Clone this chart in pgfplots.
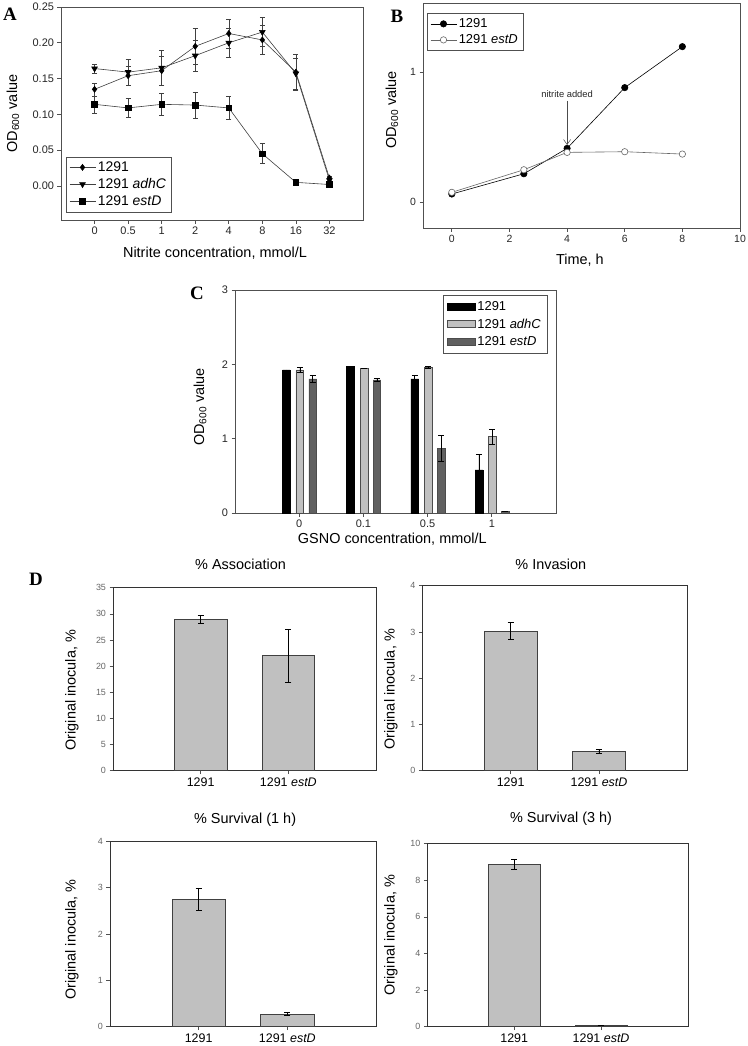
\documentclass[border=0pt]{standalone}
\usepackage{pgfplots}
\pgfplotsset{compat=1.18}
\usepackage{fontspec}
\setmainfont{Liberation Sans}
\newfontfamily\serifb{Liberation Serif}
\usetikzlibrary{arrows.meta}
\definecolor{lgray}{HTML}{C0C0C0}
\definecolor{dgray}{HTML}{606060}
\definecolor{frame}{HTML}{505050}
\newcommand{\fs}[2]{\fontsize{#1}{#2}\selectfont}
\tikzset{lab/.style={font=\fs{14.5}{17}}}
\pgfplotsset{
  base/.style={
    scale only axis, anchor=south west, clip=false,
    axis line style={frame, line width=0.7bp},
    tick style={frame, line width=0.7bp},
    tick align=outside, major tick length=3.5bp,
    xtick pos=left, ytick pos=left,
    /pgf/number format/assume math mode=true,
    tick label style={black!85},
    legend cell align=left,
  },
  ebar/.style={error bars/.cd, y dir=both, y explicit,
    error bar style={black!75, line width=0.5bp},
    error mark options={rotate=90, mark size=2.5bp, black!75, line width=0.5bp}},
  bebar/.style={error bars/.cd, y dir=both, y explicit,
    error bar style={black, line width=0.6bp},
    error mark options={rotate=90, mark size=3bp, black, line width=0.6bp}},
  dpanel/.style={base, ymin=0, xmin=0, xmax=3, xtick={1,2},
    xticklabels={1291, 1291 \textit{estD}},
    xticklabel style={font=\fs{12.5}{14}, black},
    yticklabel style={font=\fs{9}{10}, black!60},
    ylabel={Original inocula, \%}, ylabel style={lab},
    title style={font=\fs{14.5}{17}, anchor=center},
    axis line style={black!80}},
  dbar/.style={ybar, bar width=0.6, fill=lgray, draw=black!75, line width=0.8bp, bebar},
}
\begin{document}
\begin{tikzpicture}
\path[use as bounding box] (0,0) rectangle (748bp,-1046bp);

% ---------- Panel A ----------
\begin{axis}[base, at={(61bp,-220bp)}, width=302bp, height=213bp,
  xmin=-1, xmax=8, ymin=-0.0476, ymax=0.25,
  xtick={0,1,2,3,4,5,6,7}, xticklabels={0,0.5,1,2,4,8,16,32},
  ytick={0,0.05,0.1,0.15,0.2,0.25},
  yticklabel style={/pgf/number format/.cd, fixed, fixed zerofill, precision=2},
  tick label style={font=\fs{11}{13}},
  xlabel={Nitrite concentration, mmol/L},
  xlabel style={lab, at={(axis description cs:0.51,-0.155)}, anchor=center},
  ylabel={OD\textsubscript{600} value},
  ylabel style={lab, at={(axis description cs:-0.159,0.5)}, anchor=center},
  legend style={at={(axis description cs:0.0166,0.0376)}, anchor=south west,
    draw=frame, font=\fs{14}{16}, inner xsep=3bp, inner ysep=3bp, row sep=1.5bp},
  legend image code/.code={\draw[mark repeat=2,mark phase=2,#1] plot coordinates {(0bp,0bp) (13bp,0bp) (26bp,0bp)};},
]
\addplot[black!75, line width=0.6bp, mark=diamond*, mark size=3bp, mark options={black, fill=black}, ebar]
  table[x=x, y=y, y error=e] {
x y e
0 0.135 0.009
1 0.154 0.013
2 0.161 0.020
3 0.195 0.025
4 0.213 0.020
5 0.204 0.020
6 0.159 0.025
7 0.011 0.002
};
\addlegendentry{1291}
\addplot[black!75, line width=0.6bp, mark=triangle*, mark size=3.3bp, mark options={black, fill=black, rotate=180}, ebar]
  table[x=x, y=y, y error=e] {
x y e
0 0.164 0.006
1 0.159 0.018
2 0.165 0.025
3 0.182 0.022
4 0.200 0.020
5 0.215 0.020
6 0.157 0.022
7 0.008 0.002
};
\addlegendentry{1291 \textit{adhC}}
\addplot[black!75, line width=0.6bp, mark=square*, mark size=2.8bp, mark options={black, fill=black}, ebar]
  table[x=x, y=y, y error=e] {
x y e
0 0.114 0.012
1 0.109 0.013
2 0.114 0.015
3 0.113 0.018
4 0.109 0.016
5 0.045 0.014
6 0.005 0.001
7 0.002 0.001
};
\addlegendentry{1291 \textit{estD}}
\end{axis}
\node[font=\serifb\bfseries\fs{19}{21}] at (10bp,-14bp) {A};

% ---------- Panel B ----------
\begin{axis}[base, at={(423bp,-228bp)}, width=317bp, height=224.7bp,
  xmin=-1, xmax=10, ymin=-0.2, ymax=1.532,
  xtick={0,2,4,6,8,10}, ytick={0,1},
  tick label style={font=\fs{10.5}{12}},
  xlabel={Time, h},
  xlabel style={lab, at={(axis description cs:0.495,-0.142)}, anchor=center},
  ylabel={OD\textsubscript{600} value},
  ylabel style={lab, at={(axis description cs:-0.098,0.525)}, anchor=center},
  legend style={at={(axis description cs:0.0126,0.955)}, anchor=north west,
    draw=frame, font=\fs{13}{15}, inner xsep=3bp, inner ysep=3bp, row sep=1.5bp},
  legend image code/.code={\draw[mark repeat=2,mark phase=2,#1] plot coordinates {(0bp,0bp) (13bp,0bp) (26bp,0bp)};},
]
\addplot[black, line width=0.6bp, mark=*, mark size=3.2bp, mark options={fill=black}]
  coordinates {(0,0.062) (2.5,0.218) (4,0.414) (6,0.882) (8,1.198)};
\addlegendentry{1291}
\addplot[black!60, line width=0.6bp, mark=*, mark size=3.2bp, mark options={fill=white, draw=black!60}]
  coordinates {(0,0.075) (2.5,0.249) (4,0.383) (6,0.388) (8,0.370)};
\addlegendentry{1291 \textit{estD}}
\node[font=\fs{9.4}{11}, black!85] at (axis cs:4,0.83) {nitrite added};
\draw[black!70, line width=0.5bp, -{Straight Barb[length=5bp, width=7bp]}] (axis cs:4,0.78) -- (axis cs:4,0.44);
\end{axis}
\node[font=\serifb\bfseries\fs{19}{21}] at (397bp,-16bp) {B};

% ---------- Panel C ----------
\begin{axis}[base, at={(235bp,-513bp)}, width=321bp, height=223bp,
  xmin=-1, xmax=4, ymin=0, ymax=3,
  xtick={0,1,2,3}, xticklabels={0,0.1,0.5,1}, ytick={0,1,2,3},
  tick label style={font=\fs{11}{13}},
  xlabel={GSNO concentration, mmol/L},
  xlabel style={lab, at={(axis description cs:0.49,-0.117)}, anchor=center},
  ylabel={OD\textsubscript{600} value},
  ylabel style={lab, at={(axis description cs:-0.109,0.475)}, anchor=center},
  legend style={at={(axis description cs:0.972,0.978)}, anchor=north east,
    draw=frame, font=\fs{13}{15}, inner xsep=4bp, inner ysep=4bp, row sep=3bp},
  legend image code/.code={\draw[#1] (0bp,-3.5bp) rectangle (28bp,3.5bp);},
]
\addplot[ybar, bar width=0.12, fill=black, draw=black, line width=0.5bp, bebar]
  table[x=x, y=y, y error=e] {
x y e
-0.2 1.925 0.0
0.8 1.970 0.0
1.8 1.805 0.05
2.8 0.580 0.21
};
\addlegendentry{1291}
\addplot[ybar, bar width=0.12, fill=lgray, draw=black!70, line width=0.5bp, bebar]
  table[x=x, y=y, y error=e] {
x y e
0.01 1.925 0.03
1.01 1.950 0.0
2.01 1.960 0.01
3.01 1.030 0.10
};
\addlegendentry{1291 \textit{adhC}}
\addplot[ybar, bar width=0.12, fill=dgray, draw=black!70, line width=0.5bp, bebar]
  table[x=x, y=y, y error=e] {
x y e
0.21 1.805 0.05
1.21 1.790 0.02
2.21 0.870 0.17
3.21 0.025 0.0
};
\addlegendentry{1291 \textit{estD}}
\end{axis}
\node[font=\serifb\bfseries\fs{19}{21}] at (197bp,-293bp) {C};

% ---------- Panel D ----------
\begin{axis}[dpanel, at={(113bp,-770.7bp)}, width=263bp, height=183bp,
  ymax=35, ytick={0,5,...,35},
  title={\% Association}, title style={at={(axis description cs:0.485,1.093)}},
  ylabel style={at={(axis description cs:-0.156,0.44)}, anchor=center},
]
\addplot[dbar] table[x=x, y=y, y error=e] {
x y e
1 29.0 0.75
2 22.0 5.0
};
\end{axis}
\node[font=\serifb\bfseries\fs{19}{21}] at (36bp,-579bp) {D};

\begin{axis}[dpanel, at={(422.3bp,-770.7bp)}, width=265bp, height=185bp,
  ymax=4, ytick={0,1,2,3,4},
  title={\% Invasion}, title style={at={(axis description cs:0.485,1.081)}},
  ylabel style={at={(axis description cs:-0.119,0.44)}, anchor=center},
]
\addplot[dbar] table[x=x, y=y, y error=e] {
x y e
1 3.02 0.18
2 0.418 0.05
};
\end{axis}

\begin{axis}[dpanel, at={(110bp,-1026.7bp)}, width=266bp, height=185.4bp,
  ymax=4, ytick={0,1,2,3,4},
  title={\% Survival (1 h)}, title style={at={(axis description cs:0.508,1.086)}},
  ylabel style={at={(axis description cs:-0.143,0.47)}, anchor=center},
]
\addplot[dbar] table[x=x, y=y, y error=e] {
x y e
1 2.755 0.24
2 0.273 0.03
};
\end{axis}

\begin{axis}[dpanel, at={(427.3bp,-1026.7bp)}, width=260.7bp, height=183bp,
  ymax=10, ytick={0,2,4,6,8,10},
  title={\% Survival (3 h)}, title style={at={(axis description cs:0.513,1.102)}},
  ylabel style={at={(axis description cs:-0.14,0.5)}, anchor=center},
]
\addplot[dbar] table[x=x, y=y, y error=e] {
x y e
1 8.87 0.28
2 0.05 0.0
};
\end{axis}
\end{tikzpicture}
\end{document}
